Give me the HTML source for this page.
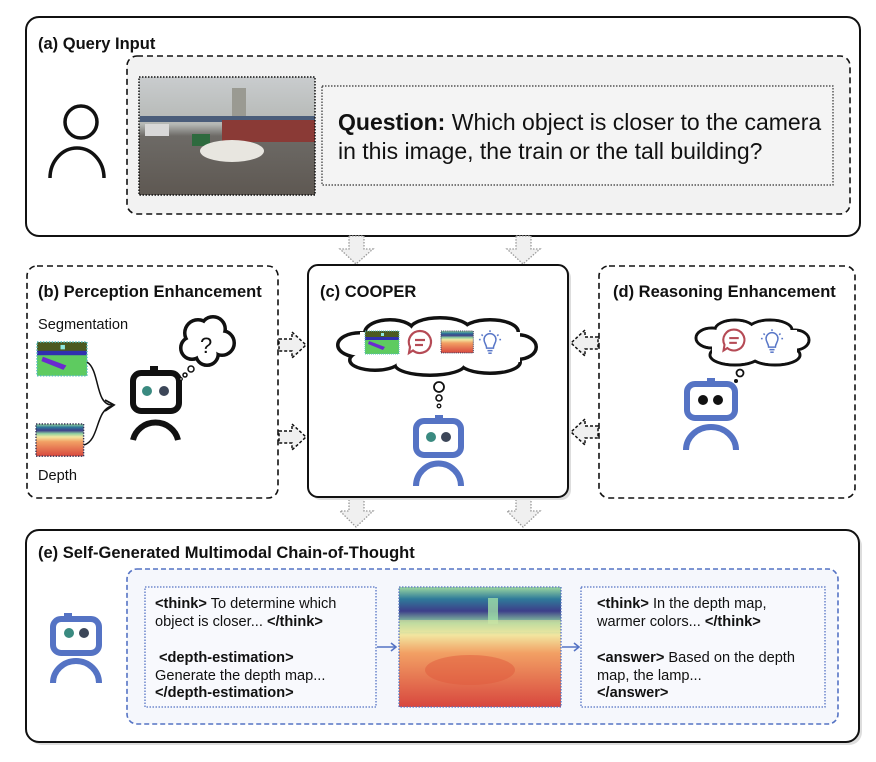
<!DOCTYPE html>
<html><head><meta charset="utf-8"><style>
html,body{margin:0;padding:0;background:#fff;}
svg{display:block;font-family:"Liberation Sans",Arial,sans-serif;}
.t{font-weight:bold;font-size:16.5px;fill:#111}
.s{font-size:14.6px;fill:#111}
.b{font-weight:bold}
</style></head><body>
<svg width="876" height="762" viewBox="0 0 876 762" xmlns="http://www.w3.org/2000/svg">
<defs>
<linearGradient id="dg" x1="0" y1="0" x2="0" y2="1">
<stop offset="0" stop-color="#9ed8a0"/><stop offset="0.1" stop-color="#2f7a9a"/><stop offset="0.2" stop-color="#3d3f8a"/><stop offset="0.3" stop-color="#8fd0a0"/><stop offset="0.4" stop-color="#f2e6a0"/><stop offset="0.55" stop-color="#f2a064"/><stop offset="1" stop-color="#d8473e"/>
</linearGradient>
<linearGradient id="sky" x1="0" y1="0" x2="0" y2="1">
<stop offset="0" stop-color="#c9ccce"/><stop offset="0.4" stop-color="#b5b8b5"/><stop offset="0.5" stop-color="#6d6a66"/><stop offset="1" stop-color="#5e5852"/>
</linearGradient>
<g id="seg"><rect width="34" height="23" fill="#5ecb60"/><rect width="34" height="7" fill="#4b5a20"/><rect y="6" width="34" height="3" fill="#3030b0"/><path d="M4 10 L20 16 L18 19 L3 13Z" fill="#6a2ad0"/><rect x="16" y="2" width="3" height="3" fill="#8ee8e0"/><rect width="34" height="23" fill="none" stroke="#5bb" stroke-width="1" stroke-dasharray="1 1"/></g>
<g id="dep"><rect width="34" height="23" fill="url(#dg)"/><rect width="34" height="23" fill="none" stroke="#335" stroke-width="1" stroke-dasharray="1 1"/></g>
<g id="chat"><path d="M0 -11 A11 11 0 1 1 -7 8.5 L-11 11 L-10 5 A11 11 0 0 1 0 -11Z" fill="none" stroke="#b54a55" stroke-width="2.2"/><line x1="-5" y1="-2" x2="5" y2="-2" stroke="#b54a55" stroke-width="2.2"/><line x1="-5" y1="3" x2="3" y2="3" stroke="#b54a55" stroke-width="2.2"/></g>
<g id="bulb" stroke="#5a78c8" stroke-width="1.8" fill="none"><path d="M-4 6 C-4 2 -7 0 -7 -4 A7 7 0 0 1 7 -4 C7 0 4 2 4 6Z"/><line x1="-3" y1="9" x2="3" y2="9"/><line x1="-2" y1="12" x2="2" y2="12"/><line x1="0" y1="-15" x2="0" y2="-13"/><line x1="-10" y1="-10" x2="-8.5" y2="-8.5"/><line x1="10" y1="-10" x2="8.5" y2="-8.5"/><line x1="-13" y1="-4" x2="-11" y2="-4"/><line x1="13" y1="-4" x2="11" y2="-4"/></g>
</defs>

<!-- (a) -->
<rect x="26" y="17" width="834" height="219" rx="13" fill="#fff" stroke="#111" stroke-width="2"/>
<text x="38" y="49" class="t">(a) Query Input</text>
<rect x="127" y="56" width="723" height="158" rx="10" fill="#f2f2f2" stroke="#111" stroke-width="1.6" stroke-dasharray="6 4"/>
<circle cx="81" cy="122" r="16" fill="none" stroke="#111" stroke-width="3.5"/>
<path d="M50 178 A27 30 0 0 1 104 178" fill="none" stroke="#111" stroke-width="3.5"/>
<g>
<rect x="139" y="77" width="176" height="118" fill="url(#sky)"/>
<rect x="232" y="88" width="14" height="30" fill="#9a9a92"/>
<rect x="140" y="116" width="175" height="6" fill="#4a5d7a"/>
<rect x="222" y="120" width="93" height="22" fill="#8a3a36"/>
<rect x="145" y="124" width="24" height="12" fill="#d8d8d8"/>
<rect x="192" y="134" width="18" height="12" fill="#2e6a3e"/>
<ellipse cx="232" cy="151" rx="32" ry="11" fill="#e8e6e0"/>
<rect x="139" y="77" width="176" height="118" fill="none" stroke="#111" stroke-width="1.5" stroke-dasharray="1.5 1.5"/>
</g>
<rect x="322" y="86" width="511" height="99" fill="#f4f4f4" stroke="#333" stroke-width="1.2" stroke-dasharray="1.5 1.5"/>
<text x="338" y="130" font-size="23" fill="#111"><tspan class="b">Question:</tspan> Which object is closer to the camera</text>
<text x="338" y="159" font-size="23" fill="#111">in this image, the train or the tall building?</text>

<!-- down arrows -->
<g fill="#f0f0f0" stroke="#999" stroke-width="1.3" stroke-dasharray="1.5 1.5">
<path d="M349 236 L364 236 L364 249 L373 249 L356 264 L340 249 L349 249Z"/>
<path d="M516 236 L531 236 L531 249 L540 249 L523 264 L507 249 L516 249Z"/>
<path d="M349 498 L364 498 L364 511 L373 511 L356 527 L340 511 L349 511Z"/>
<path d="M516 498 L531 498 L531 511 L540 511 L523 527 L507 511 L516 511Z"/>
</g>

<!-- (b) -->
<rect x="27" y="266" width="251" height="232" rx="10" fill="#fff" stroke="#111" stroke-width="1.6" stroke-dasharray="6 4"/>
<text x="38" y="297" class="t">(b) Perception Enhancement</text>
<text x="38" y="329" class="s" font-size="11.5">Segmentation</text>
<use href="#seg" transform="translate(37,342) scale(1.47)"/>
<use href="#dep" transform="translate(36,424) scale(1.4)"/>
<text x="38" y="480" class="s" font-size="11.5">Depth</text>
<path d="M87 362 C100 370 95 405 112 405" fill="none" stroke="#111" stroke-width="1.5"/>
<path d="M84 445 C100 440 95 410 112 406" fill="none" stroke="#111" stroke-width="1.5"/>
<path d="M105 400 L114 405 L105 411" fill="none" stroke="#111" stroke-width="1.8"/>
<rect x="150" y="366" width="8" height="7" fill="#111"/>
<rect x="133" y="373" width="46" height="38" rx="8" fill="#fff" stroke="#111" stroke-width="6"/>
<circle cx="147" cy="391" r="5" fill="#3a8a80"/><circle cx="164" cy="391" r="5" fill="#3c4658"/>
<path d="M133 440 A23 22 0 0 1 178 440" fill="none" stroke="#111" stroke-width="6"/>
<g stroke="#111" stroke-width="4" fill="#fff">
<circle cx="198" cy="333" r="13"/><circle cx="213" cy="329" r="12"/><circle cx="222" cy="343" r="12"/><circle cx="207" cy="354" r="11"/><circle cx="192" cy="348" r="11"/>
</g>
<g fill="#fff"><circle cx="198" cy="333" r="11.5"/><circle cx="213" cy="329" r="10.5"/><circle cx="222" cy="343" r="10.5"/><circle cx="207" cy="354" r="9.5"/><circle cx="192" cy="348" r="9.5"/><circle cx="207" cy="342" r="12"/></g>
<text x="200" y="353" font-size="22" fill="#111">?</text>
<circle cx="191" cy="369" r="3" fill="#fff" stroke="#111" stroke-width="1.5"/>
<circle cx="185" cy="375" r="2" fill="#fff" stroke="#111" stroke-width="1.5"/>
<circle cx="181" cy="379" r="1.3" fill="#fff" stroke="#111" stroke-width="1.2"/>

<!-- side arrows -->
<g fill="#f0f0f0" stroke="#111" stroke-width="1.5" stroke-dasharray="3 2">
<path d="M279 339 L292 339 L292 332 L306 345 L292 358 L292 351 L279 351Z"/>
<path d="M279 431 L292 431 L292 424 L306 437 L292 450 L292 443 L279 443Z"/>
<path d="M598 337 L585 337 L585 330 L571 343 L585 356 L585 349 L598 349Z"/>
<path d="M598 426 L585 426 L585 419 L571 432 L585 445 L585 438 L598 438Z"/>
</g>

<!-- (c) -->
<rect x="311" y="268" width="260" height="232" rx="10" fill="#ddd"/>
<rect x="308" y="265" width="260" height="232" rx="10" fill="#fff" stroke="#111" stroke-width="2"/>
<text x="320" y="297" class="t">(c) COOPER</text>
<g stroke="#111" stroke-width="4" fill="#fff">
<ellipse cx="360" cy="345" rx="22" ry="12"/><ellipse cx="390" cy="333" rx="25" ry="13"/><ellipse cx="440" cy="330" rx="30" ry="12"/><ellipse cx="490" cy="332" rx="28" ry="12"/><ellipse cx="518" cy="347" rx="18" ry="12"/><ellipse cx="490" cy="362" rx="30" ry="11"/><ellipse cx="430" cy="364" rx="35" ry="11"/><ellipse cx="375" cy="360" rx="25" ry="10"/>
</g>
<g fill="#fff">
<ellipse cx="360" cy="345" rx="20.5" ry="10.5"/><ellipse cx="390" cy="333" rx="23.5" ry="11.5"/><ellipse cx="440" cy="330" rx="28.5" ry="10.5"/><ellipse cx="490" cy="332" rx="26.5" ry="10.5"/><ellipse cx="518" cy="347" rx="16.5" ry="10.5"/><ellipse cx="490" cy="362" rx="28.5" ry="9.5"/><ellipse cx="430" cy="364" rx="33.5" ry="9.5"/><ellipse cx="375" cy="360" rx="23.5" ry="8.5"/><rect x="360" y="332" width="160" height="30"/>
</g>
<use href="#seg" transform="translate(365,331)"/>
<use href="#chat" transform="translate(420,342)"/>
<use href="#dep" transform="translate(441,331) scale(0.95)"/>
<use href="#bulb" transform="translate(490,343) scale(0.85)"/>
<circle cx="439" cy="387" r="5" fill="#fff" stroke="#111" stroke-width="1.8"/>
<circle cx="439" cy="398" r="3" fill="#fff" stroke="#111" stroke-width="1.6"/>
<circle cx="439" cy="406" r="1.8" fill="#fff" stroke="#111" stroke-width="1.3"/>
<rect x="435" y="415" width="8" height="6" fill="#5573c4"/>
<rect x="416" y="421" width="45" height="34" rx="8" fill="#fff" stroke="#5573c4" stroke-width="6"/>
<circle cx="431" cy="437" r="5" fill="#3a8a80"/><circle cx="446" cy="437" r="5" fill="#3c4658"/>
<path d="M416 486 A22 22 0 0 1 461 486" fill="none" stroke="#5573c4" stroke-width="6"/>

<!-- (d) -->
<rect x="599" y="266" width="256" height="232" rx="10" fill="#fff" stroke="#111" stroke-width="1.6" stroke-dasharray="6 4"/>
<text x="613" y="297" class="t">(d) Reasoning Enhancement</text>
<g stroke="#111" stroke-width="3" fill="#fff">
<ellipse cx="712" cy="338" rx="16" ry="10"/><ellipse cx="735" cy="330" rx="20" ry="10"/><ellipse cx="770" cy="330" rx="22" ry="10"/><ellipse cx="795" cy="340" rx="14" ry="10"/><ellipse cx="775" cy="355" rx="25" ry="10"/><ellipse cx="735" cy="355" rx="25" ry="10"/>
</g>
<g fill="#fff">
<ellipse cx="712" cy="338" rx="14.5" ry="8.5"/><ellipse cx="735" cy="330" rx="18.5" ry="8.5"/><ellipse cx="770" cy="330" rx="20.5" ry="8.5"/><ellipse cx="795" cy="340" rx="12.5" ry="8.5"/><ellipse cx="775" cy="355" rx="23.5" ry="8.5"/><ellipse cx="735" cy="355" rx="23.5" ry="8.5"/><rect x="712" y="330" width="85" height="25"/>
</g>
<use href="#chat" transform="translate(734,340) scale(0.95)"/>
<use href="#bulb" transform="translate(772,342) scale(0.85)"/>
<circle cx="740" cy="373" r="3.5" fill="#fff" stroke="#111" stroke-width="1.8"/>
<circle cx="736" cy="381" r="2" fill="#111"/>
<rect x="707" y="378" width="8" height="6" fill="#5573c4"/>
<rect x="687" y="384" width="48" height="34" rx="8" fill="#fff" stroke="#5573c4" stroke-width="6"/>
<circle cx="703" cy="400" r="5" fill="#111"/><circle cx="718" cy="400" r="5" fill="#111"/>
<path d="M686 450 A25 23 0 0 1 736 450" fill="none" stroke="#5573c4" stroke-width="6"/>

<!-- (e) -->
<rect x="29" y="533" width="833" height="212" rx="13" fill="#ddd"/>
<rect x="26" y="530" width="833" height="212" rx="13" fill="#fff" stroke="#111" stroke-width="2"/>
<text x="38" y="558" class="t">(e) Self-Generated Multimodal Chain-of-Thought</text>
<rect x="127" y="569" width="711" height="155" rx="10" fill="#f5f7fc" stroke="#5573c4" stroke-width="1.6" stroke-dasharray="5 3"/>
<rect x="64" y="613" width="8" height="6" fill="#5573c4"/>
<rect x="53" y="619" width="46" height="34" rx="8" fill="#fff" stroke="#5573c4" stroke-width="6"/>
<circle cx="69" cy="633" r="5" fill="#3a8a80"/><circle cx="84" cy="633" r="5" fill="#3c4658"/>
<path d="M53 683 A23 22 0 0 1 99 683" fill="none" stroke="#5573c4" stroke-width="6"/>
<rect x="145" y="587" width="231" height="120" fill="#f8f9fd" stroke="#5573c4" stroke-width="1.3" stroke-dasharray="1.5 1.5"/>
<text x="155" y="608" class="s"><tspan class="b">&lt;think&gt;</tspan> To determine which</text>
<text x="155" y="626" class="s">object is closer... <tspan class="b">&lt;/think&gt;</tspan></text>
<text x="159" y="662" class="s b">&lt;depth-estimation&gt;</text>
<text x="155" y="680" class="s">Generate the depth map...</text>
<text x="155" y="697" class="s b">&lt;/depth-estimation&gt;</text>
<rect x="399" y="587" width="162" height="120" fill="url(#dg)"/>
<rect x="488" y="598" width="10" height="26" fill="#a0e0a8" opacity="0.8"/>
<rect x="399" y="620" width="162" height="12" fill="#f0e8a0" opacity="0.5"/>
<ellipse cx="470" cy="670" rx="45" ry="15" fill="#e05a3c" opacity="0.5"/>
<rect x="399" y="587" width="162" height="120" fill="none" stroke="#5573c4" stroke-width="1.3" stroke-dasharray="1.5 1.5"/>
<rect x="581" y="587" width="244" height="120" fill="#f8f9fd" stroke="#5573c4" stroke-width="1.3" stroke-dasharray="1.5 1.5"/>
<text x="597" y="608" class="s"><tspan class="b">&lt;think&gt;</tspan> In the depth map,</text>
<text x="597" y="626" class="s">warmer colors... <tspan class="b">&lt;/think&gt;</tspan></text>
<text x="597" y="662" class="s"><tspan class="b">&lt;answer&gt;</tspan> Based on the depth</text>
<text x="597" y="680" class="s">map, the lamp...</text>
<text x="597" y="697" class="s b">&lt;/answer&gt;</text>
<g stroke="#5573c4" stroke-width="1.6" fill="none">
<line x1="377" y1="647" x2="396" y2="647"/><path d="M391 643 L396 647 L391 651"/>
<line x1="562" y1="647" x2="579" y2="647"/><path d="M574 643 L579 647 L574 651"/>
</g>
</svg>
</body></html>
